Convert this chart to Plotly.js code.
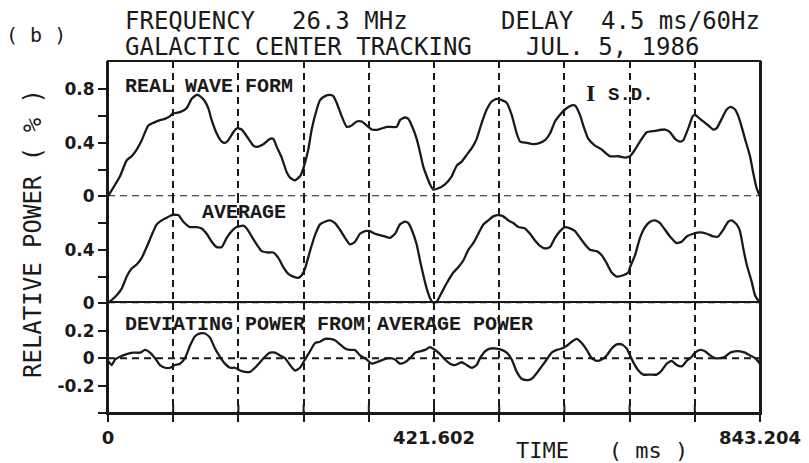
<!DOCTYPE html>
<html>
<head>
<meta charset="utf-8">
<script src="https://cdn.plot.ly/plotly-3.0.1.min.js"></script>
<style>
  html, body { margin: 0; padding: 0; background: #ffffff; }
  #wrap { position: relative; width: 809px; height: 463px; }
  #chart { width: 809px; height: 463px; }
  /* plot-area frame drawn over the chart */
  #frame {
    position: absolute; left: 107px; top: 60px; width: 654px; height: 354px;
    box-sizing: border-box; border: 2px solid #1a1a1a; pointer-events: none;
  }
</style>
</head>
<body>
<div id="wrap"><div id="chart"></div><div id="frame"></div></div>
<script>
// ---- Data (time in ms, relative power in %) ----
const PERIOD_MS = 843.204;

// REAL WAVE FORM
const realTime = [
  0, 15.5, 24.2, 30.6, 37.1, 43.6, 52.1, 58.6, 67.2, 73.7,
  80.2, 83.7, 93.1, 101.8, 108.2, 114.7, 119.0, 125.4, 129.7, 134.1,
  140.6, 147.0, 151.3, 155.6, 162.0, 167.2, 172.9, 179.4, 187.9, 192.3,
  200.9, 209.5, 213.8, 218.2, 224.6, 231.1, 235.4, 241.8, 248.3, 252.6,
  259.0, 263.4, 269.9, 274.2, 280.6, 287.1, 291.4, 295.7, 302.2, 308.7,
  315.2, 321.6, 328.1, 334.6, 341.0, 349.6, 360.4, 373.4, 377.6, 384.1,
  388.4, 392.8, 399.2, 403.5, 407.8, 412.2, 416.4, 420.7, 427.2, 435.8,
  444.5, 451.0, 457.4, 463.9, 470.4, 476.8, 483.3, 489.8, 496.2, 502.7,
  509.2, 515.6, 522.1, 528.6, 532.9, 541.5, 550.0, 558.7, 565.2, 571.6,
  578.1, 584.6, 591.0, 599.7, 604.0, 610.4, 614.7, 621.2, 629.8, 638.5,
  649.2, 660.0, 668.6, 675.1, 681.6, 688.0, 696.7, 707.4, 720.4, 726.8,
  733.3, 739.8, 744.0, 750.5, 756.2, 759.2, 765.6, 776.4, 782.8, 787.2,
  793.7, 800.1, 805.3, 810.9, 815.2, 819.5, 823.8, 830.3, 834.6, 838.9,
  843.2
];
const realPower = [
  0, 0.15, 0.27, 0.30, 0.35, 0.42, 0.53, 0.55, 0.57, 0.58,
  0.60, 0.62, 0.63, 0.66, 0.73, 0.76, 0.75, 0.71, 0.66, 0.57,
  0.47, 0.41, 0.40, 0.42, 0.48, 0.51, 0.50, 0.45, 0.38, 0.37,
  0.39, 0.43, 0.43, 0.37, 0.29, 0.18, 0.14, 0.12, 0.15, 0.21,
  0.35, 0.50, 0.65, 0.72, 0.75, 0.76, 0.75, 0.70, 0.60, 0.52,
  0.53, 0.56, 0.56, 0.53, 0.50, 0.50, 0.52, 0.52, 0.57, 0.59,
  0.58, 0.53, 0.43, 0.33, 0.22, 0.15, 0.09, 0.05, 0.06, 0.09,
  0.15, 0.23, 0.26, 0.31, 0.36, 0.43, 0.55, 0.65, 0.71, 0.73,
  0.72, 0.70, 0.61, 0.47, 0.41, 0.40, 0.39, 0.40, 0.42, 0.47,
  0.56, 0.61, 0.65, 0.68, 0.68, 0.61, 0.53, 0.43, 0.38, 0.35,
  0.30, 0.30, 0.29, 0.30, 0.35, 0.41, 0.48, 0.49, 0.50, 0.48,
  0.43, 0.41, 0.42, 0.51, 0.60, 0.61, 0.58, 0.53, 0.50, 0.51,
  0.58, 0.65, 0.67, 0.65, 0.60, 0.52, 0.43, 0.30, 0.17, 0.06,
  0.00
];

// AVERAGE
const avgTime = [
  0, 11.2, 17.7, 24.2, 30.6, 37.1, 43.6, 50.0, 56.5, 63.0,
  69.4, 75.9, 82.4, 90.9, 97.4, 106.0, 114.7, 121.2, 127.6, 134.1,
  140.6, 147.0, 153.5, 160.0, 166.4, 175.0, 179.4, 185.8, 192.3, 198.8,
  207.3, 213.8, 220.3, 226.7, 233.2, 239.7, 246.1, 250.5, 254.8, 261.2,
  267.7, 274.2, 280.6, 287.1, 293.6, 300.0, 306.5, 313.0, 319.4, 325.9,
  332.4, 338.8, 345.3, 351.8, 358.2, 364.7, 371.2, 377.6, 384.1, 388.4,
  392.8, 399.2, 403.5, 407.8, 412.2, 416.4, 420.7, 425.0, 431.5, 438.0,
  446.6, 453.0, 459.5, 466.0, 472.4, 478.9, 485.4, 491.8, 498.3, 504.8,
  511.2, 517.7, 524.2, 530.6, 539.3, 545.7, 552.2, 558.7, 565.2, 571.6,
  578.1, 584.6, 591.0, 597.5, 604.0, 610.4, 616.9, 623.4, 632.0, 638.5,
  644.9, 651.4, 657.9, 666.4, 672.9, 675.1, 681.6, 688.0, 694.5, 701.0,
  707.4, 713.9, 720.4, 726.8, 735.4, 741.9, 748.4, 756.9, 765.6, 774.3,
  782.8, 789.3, 795.7, 802.2, 806.6, 813.0, 817.3, 821.6, 826.0, 832.5,
  836.8, 843.2
];
const avgPower = [
  0, 0.06, 0.11, 0.20, 0.26, 0.29, 0.34, 0.42, 0.51, 0.59,
  0.62, 0.64, 0.66, 0.66, 0.61, 0.57, 0.57, 0.56, 0.52, 0.46,
  0.42, 0.42, 0.49, 0.54, 0.57, 0.58, 0.56, 0.50, 0.44, 0.39,
  0.38, 0.38, 0.34, 0.27, 0.22, 0.20, 0.19, 0.21, 0.26, 0.39,
  0.51, 0.59, 0.61, 0.62, 0.60, 0.55, 0.49, 0.44, 0.46, 0.52,
  0.54, 0.54, 0.52, 0.51, 0.50, 0.49, 0.52, 0.59, 0.61, 0.60,
  0.55, 0.44, 0.32, 0.21, 0.11, 0.04, 0.00, 0.01, 0.08, 0.15,
  0.23, 0.27, 0.32, 0.40, 0.45, 0.52, 0.59, 0.62, 0.65, 0.66,
  0.65, 0.62, 0.60, 0.57, 0.56, 0.52, 0.47, 0.43, 0.41, 0.42,
  0.49, 0.54, 0.57, 0.56, 0.54, 0.49, 0.44, 0.40, 0.39, 0.36,
  0.30, 0.23, 0.20, 0.21, 0.23, 0.27, 0.36, 0.49, 0.57, 0.61,
  0.62, 0.60, 0.55, 0.50, 0.45, 0.46, 0.50, 0.52, 0.53, 0.52,
  0.50, 0.50, 0.55, 0.61, 0.62, 0.59, 0.54, 0.41, 0.29, 0.16,
  0.06, 0.00
];

// DEVIATING POWER FROM AVERAGE POWER
const devTime = [
  0, 4.8, 9.1, 15.5, 24.2, 32.7, 41.4, 47.9, 54.3, 60.8,
  67.2, 73.7, 80.2, 86.6, 93.1, 99.6, 106.0, 112.5, 119.0, 125.4,
  131.9, 138.4, 144.8, 151.3, 157.8, 164.2, 170.7, 177.2, 183.6, 190.1,
  196.6, 203.0, 209.5, 216.0, 222.4, 228.9, 235.4, 241.8, 248.3, 254.8,
  261.2, 267.7, 274.2, 280.6, 287.1, 293.6, 300.0, 306.5, 313.0, 319.4,
  325.9, 334.6, 341.0, 347.5, 356.0, 364.7, 371.2, 377.6, 384.1, 390.6,
  397.0, 403.5, 410.0, 416.4, 422.9, 429.4, 435.8, 442.3, 448.8, 457.4,
  463.9, 470.4, 476.8, 481.1, 487.6, 494.0, 502.7, 509.2, 515.6, 522.1,
  528.6, 535.0, 541.5, 548.0, 554.4, 560.9, 567.4, 573.8, 580.3, 586.8,
  593.2, 599.7, 606.1, 612.6, 619.1, 625.5, 632.0, 638.5, 644.9, 651.4,
  657.9, 664.4, 670.8, 675.1, 680.3, 685.9, 692.3, 701.0, 709.6, 716.1,
  722.6, 729.0, 735.5, 742.0, 748.4, 754.9, 759.2, 765.6, 772.1, 778.6,
  785.1, 791.5, 798.0, 804.5, 810.9, 817.4, 823.9, 830.3, 836.8, 843.2
];
const devPower = [
  -0.02, -0.05, -0.01, 0.01, 0.03, 0.04, 0.04, 0.06, 0.04, 0.00,
  -0.05, -0.07, -0.07, -0.05, -0.04, 0.00, 0.09, 0.16, 0.18, 0.18,
  0.15, 0.07, 0.01, -0.04, -0.07, -0.07, -0.09, -0.10, -0.10, -0.07,
  -0.03, 0.01, 0.04, 0.04, 0.02, 0.00, -0.05, -0.09, -0.07, -0.01,
  0.05, 0.11, 0.12, 0.14, 0.14, 0.13, 0.10, 0.07, 0.06, 0.06,
  0.02, -0.01, -0.04, -0.03, -0.01, 0.00, -0.01, -0.04, -0.03, 0.00,
  0.04, 0.05, 0.06, 0.08, 0.06, 0.03, -0.01, -0.04, -0.05, -0.03,
  -0.05, -0.07, -0.05, 0.00, 0.05, 0.07, 0.07, 0.06, 0.04, -0.01,
  -0.10, -0.15, -0.16, -0.15, -0.11, -0.06, -0.01, 0.04, 0.06, 0.07,
  0.09, 0.12, 0.14, 0.11, 0.06, 0.00, -0.02, -0.01, 0.02, 0.07,
  0.10, 0.10, 0.07, 0.02, -0.04, -0.09, -0.12, -0.12, -0.12, -0.09,
  -0.04, -0.02, -0.05, -0.06, -0.02, 0.01, 0.04, 0.06, 0.05, 0.02,
  0.00, 0.00, 0.01, 0.04, 0.05, 0.05, 0.04, 0.02, 0.00, -0.04
];

// ---- Axis ticks ----
const timeTickVals = [0, 1, 2, 3, 4, 5, 6, 7, 8, 9, 10].map(k => k * PERIOD_MS / 10);
const timeTickText = ['0', '', '', '', '', '421.602', '', '', '', '', '843.204'];

const realTickVals = [0, 0.2, 0.4, 0.6, 0.8];
const realTickText = ['0', '', '0.4', '', '0.8'];
const avgTickVals = [0, 0.2, 0.4, 0.6];
const avgTickText = ['0', '', '0.4', ''];
const devTickVals = [-0.4, -0.2, 0, 0.2];
const devTickText = ['', '-0.2', '0', '0.2'];

// ---- Styling ----
const INK = '#1a1a1a';
const MONO = '"DejaVu Sans Mono", monospace';
const LABEL = '"Liberation Mono", "DejaVu Sans Mono", monospace';
const TICKFONT = { family: '"DejaVu Sans", sans-serif', size: 17, color: INK, weight: 700 };
const FRAME_W = 2;

// plot box in pixels
const L = 108, T = 61, W = 652, H = 352;
const px = x => (x - L) / W;
const py = y => (T + H - y) / H;

// value ranges of the three stacked panels
const REAL_RANGE = [0, 1.013];
const AVG_RANGE = [0, 0.8];
const DEV_RANGE = [-0.4, 0.4];

const lineStyle = { color: INK, width: 2.3, shape: 'spline', smoothing: 0.5 };

const traces = [
  { x: realTime, y: realPower, xaxis: 'x', yaxis: 'y', mode: 'lines', line: lineStyle, hoverinfo: 'skip' },
  { x: avgTime, y: avgPower, xaxis: 'x', yaxis: 'y2', mode: 'lines', line: lineStyle, hoverinfo: 'skip' },
  { x: devTime, y: devPower, xaxis: 'x', yaxis: 'y3', mode: 'lines', line: lineStyle, hoverinfo: 'skip' }
];

const yCommon = {
  anchor: 'x', showgrid: false, zeroline: false,
  showline: true, mirror: true, linecolor: INK, linewidth: FRAME_W,
  ticks: 'outside', ticklen: 8, tickwidth: 2, tickcolor: INK,
  tickmode: 'array', tickfont: TICKFONT, fixedrange: true
};

function dashedZero(yref) {
  return {
    type: 'line', xref: 'paper', x0: 0, x1: 1, yref: yref, y0: 0, y1: 0,
    line: { color: INK, width: 2, dash: '7px,5px' }
  };
}

// short solid marks rising from the time axis at every division
const innerTicks = timeTickVals.map(v => ({
  type: 'line', xref: 'x', x0: v, x1: v, yref: 'y3', y0: DEV_RANGE[0], y1: DEV_RANGE[0] + 0.06,
  line: { color: INK, width: 2 }
}));

function note(text, x, y, font, anchor, extra) {
  return Object.assign({
    text: text, xref: 'paper', yref: 'paper', x: px(x), y: py(y),
    xanchor: anchor || 'left', yanchor: 'middle', showarrow: false,
    font: Object.assign({ color: INK }, font)
  }, extra || {});
}

const titleFont = { family: MONO, size: 24 };
const labelFont = { family: LABEL, size: 20, weight: 700 };

const layout = {
  width: 809, height: 463,
  margin: { l: L, r: 809 - L - W, t: T, b: 463 - T - H },
  paper_bgcolor: '#ffffff', plot_bgcolor: '#ffffff',
  showlegend: false,
  xaxis: {
    anchor: 'y3', range: [0, PERIOD_MS],
    tickmode: 'array', tickvals: timeTickVals, ticktext: timeTickText,
    ticks: 'outside', ticklen: 7, tickwidth: 2, tickcolor: INK,
    tickfont: Object.assign({}, TICKFONT, { size: 18 }),
    showgrid: true, gridcolor: INK, gridwidth: 2, griddash: '7px,5px',
    zeroline: false, showline: true, mirror: true, linecolor: INK, linewidth: FRAME_W, fixedrange: true
  },
  yaxis: Object.assign({}, yCommon, { domain: [0.6156, 1], range: REAL_RANGE, tickvals: realTickVals, ticktext: realTickText }),
  yaxis2: Object.assign({}, yCommon, { domain: [0.3116, 0.6156], range: AVG_RANGE, tickvals: avgTickVals, ticktext: avgTickText }),
  yaxis3: Object.assign({}, yCommon, { domain: [0, 0.3116], range: DEV_RANGE, tickvals: devTickVals, ticktext: devTickText }),
  shapes: [dashedZero('y'), dashedZero('y2'), dashedZero('y3')].concat(innerTicks),
  annotations: [
    note('( b )', 4, 35, { family: MONO, size: 20 }),
    note('FREQUENCY', 123, 20.5, titleFont),
    note('26.3 MHz', 290, 20.5, titleFont),
    note('DELAY', 499, 20.5, titleFont),
    note('4.5 ms/60Hz', 599, 20.5, titleFont),
    note('GALACTIC CENTER TRACKING', 123, 47, titleFont),
    note('JUL. 5, 1986', 524, 47, titleFont),
    note('RELATIVE POWER ( % )', 33, 234, titleFont, 'center', { textangle: -90 }),
    note('TIME\u00a0\u00a0\u00a0( ms )', 514, 450, { family: MONO, size: 22 }),
    note('REAL WAVE FORM', 123, 86, labelFont),
    note('AVERAGE', 200, 213, labelFont),
    note('DEVIATING POWER FROM AVERAGE POWER', 123, 324, labelFont),
    note('I', 590, 93, { family: '"Liberation Serif", serif', size: 24, weight: 700 }, 'center'),
    note('S.D.', 606, 95, { family: LABEL, size: 19, weight: 700 })
  ]
};

Plotly.newPlot('chart', traces, layout, { staticPlot: true, displayModeBar: false });
</script>
</body>
</html>
